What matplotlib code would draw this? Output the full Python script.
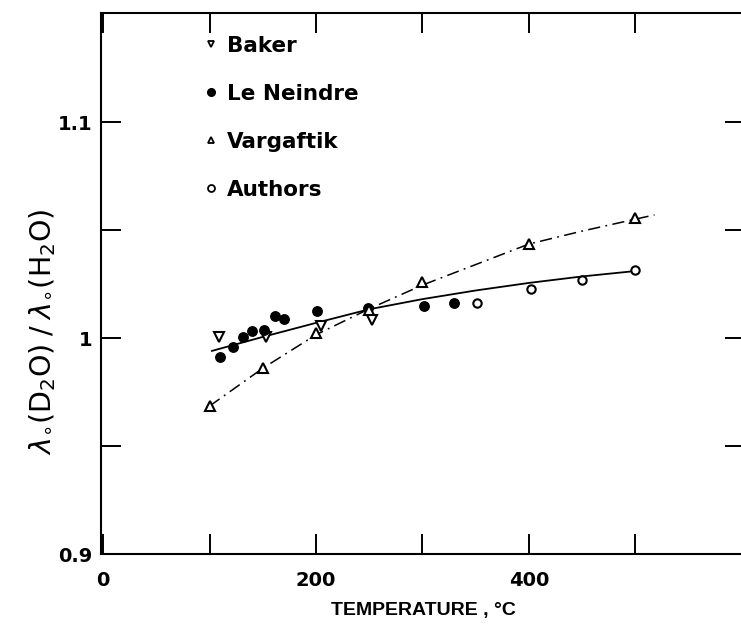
import matplotlib
matplotlib.use("Agg")
import matplotlib.pyplot as plt
from matplotlib.lines import Line2D

plt.rcParams["mathtext.fontset"] = "dejavusans"

# ---- data ----
baker_T = [109, 153, 205, 253]
baker_v = [1.0003, 1.0006, 1.0056, 1.0083]

leneindre_T = [110, 122, 131, 140, 151, 161, 170, 201, 249, 301, 330]
leneindre_v = [0.991, 0.996, 1.0003, 1.0034, 1.0037, 1.0100, 1.0090, 1.0126, 1.0137, 1.0148, 1.0160]

vargaftik_T = [100, 150, 200, 250, 300, 400, 500]
vargaftik_v = [0.9685, 0.986, 1.0022, 1.0130, 1.0260, 1.0435, 1.0555]

authors_T = [351, 402, 450, 500]
authors_v = [1.0163, 1.0225, 1.0270, 1.0316]

# fitted curves
solid_T = [102, 150, 200, 250, 300, 350, 400, 450, 500]
solid_v = [0.994, 1.0005, 1.007, 1.0133, 1.018, 1.022, 1.0255, 1.0285, 1.031]

dashdot_T = [100, 150, 200, 250, 300, 350, 400, 450, 518]
dashdot_v = [0.9685, 0.986, 1.0015, 1.0135, 1.0245, 1.034, 1.0435, 1.0495, 1.057]

xticks = [0, 100, 200, 300, 400, 500]
xticklabels = ["0", "", "200", "", "400", ""]
yticks = [0.9, 0.95, 1.0, 1.05, 1.1]
yticklabels = ["0.9", "", "1", "", "1.1"]

legend_labels = ["Baker", "Le Neindre", "Vargaftik", "Authors"]

W, H = 741, 636
fig = plt.figure(figsize=(W / 100, H / 100), dpi=100)
ax = fig.add_axes([101 / W, (H - 554) / H, 644 / W, 541 / H])

ax.set_xlim(-2, 603)
ax.set_ylim(0.9, 0.9 + 541 / 2160)

ax.plot(solid_T, solid_v, color="black", lw=1.3, solid_capstyle="round")
ax.plot(dashdot_T, dashdot_v, color="black", lw=1.1, linestyle=(0, (8, 3.5, 1.2, 3.5)))

ax.plot(baker_T, baker_v, linestyle="none", marker="v", ms=6.5, mfc="white", mec="black", mew=1.5)
ax.plot(leneindre_T, leneindre_v, linestyle="none", marker="o", ms=6.8, mfc="black", mec="black")
ax.plot(vargaftik_T, vargaftik_v, linestyle="none", marker="^", ms=6.5, mfc="white", mec="black", mew=1.5)
ax.plot(authors_T, authors_v, linestyle="none", marker="o", ms=6, mfc="white", mec="black", mew=1.5)

for s in ax.spines.values():
    s.set_linewidth(1.5)

ax.set_xticks(xticks)
ax.set_xticklabels(xticklabels)
ax.set_yticks(yticks)
ax.set_yticklabels(yticklabels)
ax.tick_params(axis="both", direction="in", length=14.5, width=1.4,
               top=True, right=True, labelsize=14)
ax.tick_params(axis="x", pad=12)
ax.tick_params(axis="y", pad=6)
for lab in ax.get_xticklabels() + ax.get_yticklabels():
    lab.set_fontweight("bold")

ax.set_xlabel("TEMPERATURE , °C", fontsize=14, fontweight="bold",
              family=["Liberation Sans", "DejaVu Sans"], labelpad=9)
ax.set_ylabel(r"$\lambda_{\circ}(\mathrm{D_2O})\;/\;\lambda_{\circ}(\mathrm{H_2O})$", fontsize=20.5)
ax.yaxis.set_label_coords(-0.066, 0.41)

handles = [
    Line2D([], [], linestyle="none", marker="v", ms=5, mfc="white", mec="black", mew=1.3),
    Line2D([], [], linestyle="none", marker="o", ms=5.5, mfc="black", mec="black"),
    Line2D([], [], linestyle="none", marker="^", ms=5, mfc="white", mec="black", mew=1.3),
    Line2D([], [], linestyle="none", marker="o", ms=5, mfc="white", mec="black", mew=1.3),
]
leg = ax.legend(handles, legend_labels, loc="upper left", bbox_to_anchor=(0.144, 0.978),
                frameon=False, borderpad=0, handlelength=0.6, handletextpad=0.45,
                labelspacing=1.3, prop={"size": 15.5, "weight": "bold"})

fig.savefig("out.png", dpi=100)
